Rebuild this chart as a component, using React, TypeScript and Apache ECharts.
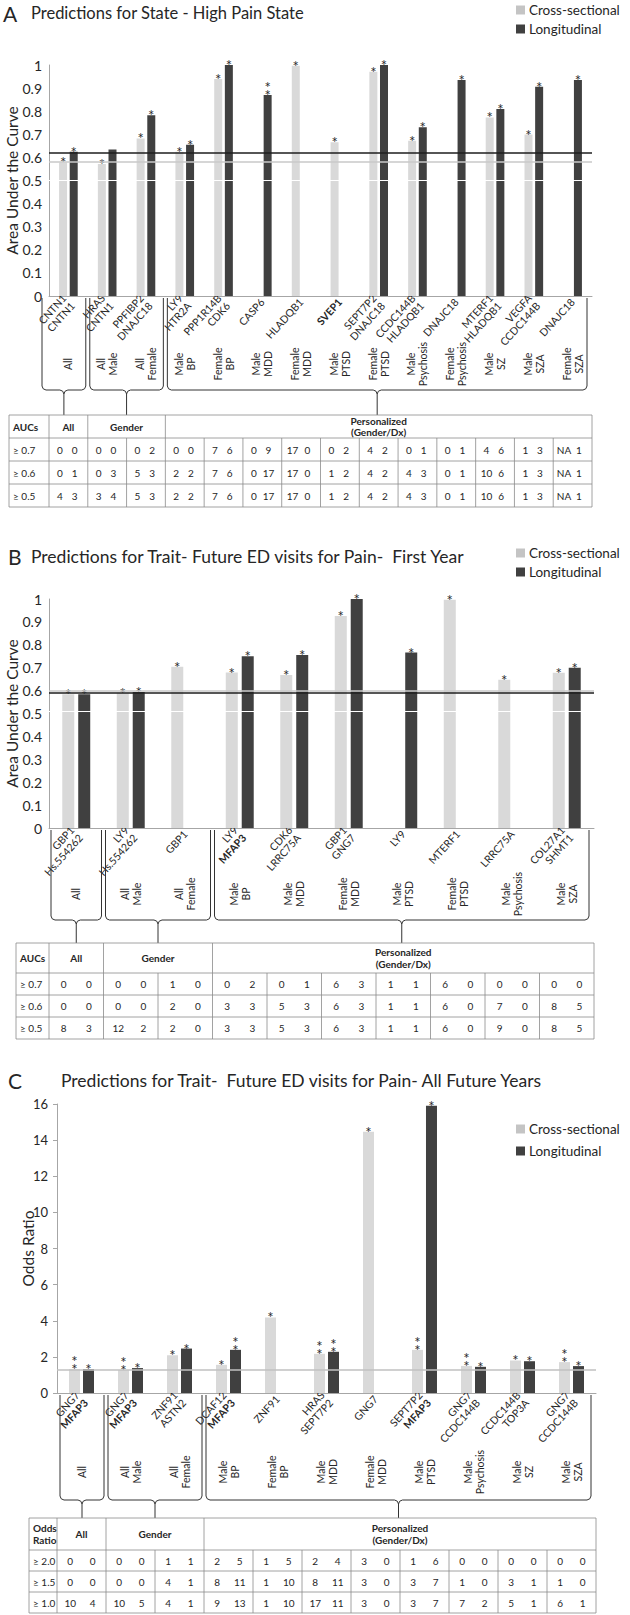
import React, { useEffect, useRef } from "react";
import * as echarts from "echarts";

const FONT = "Lato, 'Open Sans', 'DejaVu Sans', sans-serif";
const TEXT = "#262626";
const CS_COLOR = "#d9d9d9";
const L_COLOR = "#404040";
const CS_LEGEND = "#c4c4c4";

const seriesNames = ["Cross-sectional", "Longitudinal"];
const boldGenes = ["MFAP3", "SVEP1"];

// ---------------- Panel A ----------------
const aLetter = "A";
const aTitle = "Predictions for State - High Pain State";
const aGenes = ["CNTN1\nCNTN1", "HRAS\nCNTN1", "PPFIBP2\nDNAJC18", "LY9\nHTR2A", "PPP1R14B\nCDK6", "CASP6", "HLADQB1", "SVEP1", "SEPT7P2\nDNAJC18", "CCDC144B\nHLADQB1", "DNAJC18", "MTERF1\nHLADQB1", "VEGFA\nCCDC144B", "DNAJC18"];
const aGroups = ["All", "All\nMale", "All\nFemale", "Male\nBP", "Female\nBP", "Male\nMDD", "Female\nMDD", "Male\nPTSD", "Female\nPTSD", "Male\nPsychosis", "Female\nPsychosis", "Male\nSZ", "Male\nSZA", "Female\nSZA"];
const aCross = [0.578, 0.571, 0.682, 0.625, 0.939, null, 0.997, 0.666, 0.971, 0.672, null, 0.773, 0.699, null];
const aLong = [0.624, 0.634, 0.782, 0.655, 1.0, 0.87, null, null, 1.0, 0.73, 0.935, 0.809, 0.906, 0.935];
const aCrossStars = [1, 1, 1, 1, 1, 0, 1, 1, 1, 1, 0, 1, 1, 0];
const aLongStars = [1, 0, 1, 1, 1, 2, 0, 0, 1, 1, 1, 1, 1, 1];
const aRefLines = [0.5, 0.578, 0.622];
const aRefColors = ["#ffffff", "#c8c8c8", "#1e1e1e"];
const aYMax = 1;
const aYStep = 0.1;
const aYName = "Area Under the Curve";
const aHeaders = ["AUCs", "All", "Gender", "Personalized\n(Gender/Dx)"];
const aRowLabels = ["≥ 0.7", "≥ 0.6", "≥ 0.5"];
const aTable = [
  ["0 0", "0 0", "0 2", "0 0", "7 6", "0 9", "17 0", "0 2", "4 2", "0 1", "0 1", "4 6", "1 3", "NA 1"],
  ["0 1", "0 3", "5 3", "2 2", "7 6", "0 17", "17 0", "1 2", "4 2", "4 3", "0 1", "10 6", "1 3", "NA 1"],
  ["4 3", "3 4", "5 3", "2 2", "7 6", "0 17", "17 0", "1 2", "4 2", "4 3", "0 1", "10 6", "1 3", "NA 1"],
];

// ---------------- Panel B ----------------
const bLetter = "B";
const bTitle = "Predictions for Trait- Future ED visits for Pain-  First Year";
const bGenes = ["GBP1\nHs.554262", "LY9\nHs.554262", "GBP1", "LY9\nMFAP3", "CDK6\nLRRC75A", "GBP1\nGNG7", "LY9", "MTERF1", "LRRC75A", "COL27A1\nSHMT1"];
const bGroups = ["All", "All\nMale", "All\nFemale", "Male\nBP", "Male\nMDD", "Female\nMDD", "Male\nPTSD", "Female\nPTSD", "Male\nPsychosis", "Male\nSZA"];
const bCross = [0.584, 0.591, 0.704, 0.679, 0.668, 0.926, null, 0.997, 0.647, 0.678];
const bLong = [0.584, 0.594, null, 0.75, 0.756, 1.0, 0.766, null, null, 0.70];
const bCrossStars = [1, 1, 1, 1, 1, 1, 0, 1, 1, 1];
const bLongStars = [1, 1, 0, 1, 1, 1, 1, 0, 0, 1];
const bRefLines = [0.505, 0.596, 0.589];
const bRefColors = ["#ffffff", "#c8c8c8", "#1e1e1e"];
const bYMax = 1;
const bYStep = 0.1;
const bYName = "Area Under the Curve";
const bHeaders = ["AUCs", "All", "Gender", "Personalized\n(Gender/Dx)"];
const bRowLabels = ["≥ 0.7", "≥ 0.6", "≥ 0.5"];
const bTable = [
  ["0 0", "0 0", "1 0", "0 2", "0 1", "6 3", "1 1", "6 0", "0 0", "0 0"],
  ["0 0", "0 0", "2 0", "3 3", "5 3", "6 3", "1 1", "6 0", "7 0", "8 5"],
  ["8 3", "12 2", "2 0", "3 3", "5 3", "6 3", "1 1", "6 0", "9 0", "8 5"],
];

// ---------------- Panel C ----------------
const cLetter = "C";
const cTitle = "Predictions for Trait-  Future ED visits for Pain- All Future Years";
const cGenes = ["GNG7\nMFAP3", "GNG7\nMFAP3", "ZNF91\nASTN2", "DCAF12\nMFAP3", "ZNF91", "HRAS\nSEPT7P2", "GNG7", "SEPT7P2\nMFAP3", "GNG7\nCCDC144B", "CCDC144B\nTOP3A", "GNG7\nCCDC144B"];
const cGroups = ["All", "All\nMale", "All\nFemale", "Male\nBP", "Female\nBP", "Male\nMDD", "Female\nMDD", "Male\nPTSD", "Male\nPsychosis", "Male\nSZ", "Male\nSZA"];
const cCross = [1.32, 1.27, 2.09, 1.56, 4.18, 2.17, 14.46, 2.39, 1.5, 1.8, 1.71];
const cLong = [1.32, 1.38, 2.46, 2.39, null, 2.28, null, 15.9, 1.45, 1.76, 1.49];
const cCrossStars = [2, 2, 1, 1, 1, 2, 1, 2, 2, 1, 2];
const cLongStars = [1, 1, 1, 2, 0, 2, 0, 1, 1, 1, 1];
const cRefLines = [1.28];
const cRefColors = ["#c0c0c0"];
const cYMax = 16;
const cYStep = 2;
const cYName = "Odds Ratio";
const cHeaders = ["Odds\nRatio", "All", "Gender", "Personalized\n(Gender/Dx)"];
const cRowLabels = ["≥ 2.0", "≥ 1.5", "≥ 1.0"];
const cTable = [
  ["0 0", "0 0", "1 1", "2 5", "1 5", "2 4", "3 0", "1 6", "0 0", "0 0", "0 0"],
  ["0 0", "0 0", "4 1", "8 11", "1 10", "8 11", "3 0", "3 7", "1 0", "3 1", "1 0"],
  ["10 4", "10 5", "4 1", "9 13", "1 10", "17 11", "3 0", "3 7", "7 2", "5 1", "6 1"],
];

const panels = [
  { letter: aLetter, title: aTitle, genes: aGenes, groups: aGroups, cross: aCross, long: aLong, crossStars: aCrossStars, longStars: aLongStars, refLines: aRefLines, refColors: aRefColors, yMax: aYMax, yStep: aYStep, yName: aYName, headers: aHeaders, rowLabels: aRowLabels, table: aTable },
  { letter: bLetter, title: bTitle, genes: bGenes, groups: bGroups, cross: bCross, long: bLong, crossStars: bCrossStars, longStars: bLongStars, refLines: bRefLines, refColors: bRefColors, yMax: bYMax, yStep: bYStep, yName: bYName, headers: bHeaders, rowLabels: bRowLabels, table: bTable },
  { letter: cLetter, title: cTitle, genes: cGenes, groups: cGroups, cross: cCross, long: cLong, crossStars: cCrossStars, longStars: cLongStars, refLines: cRefLines, refColors: cRefColors, yMax: cYMax, yStep: cYStep, yName: cYName, headers: cHeaders, rowLabels: cRowLabels, table: cTable },
];

// layout (pixels)
const layouts = [
  { letterX: 3, titleX: 31, titleY: 13, titleSize: 16.5, left: 49, right: 592, top: 65, bottom: 296, barW: 8, barGap: "33%", yLabelSize: 14, yNameX: 12, geneRotate: 48, groupOffset: 68, legX: 516, legY: [10, 29], bracketY: 390, tableTop: 415, headerH: 23, rowH: 23, tableLeft: 9, numPos: [0.28, 0.66], firstBracketX: 42, yTick: false },
  { letterX: 8, titleX: 31, titleY: 556, titleSize: 17.5, left: 49, right: 594, top: 599, bottom: 828, barW: 12, barGap: "33%", yLabelSize: 14, yNameX: 12, geneRotate: 48, groupOffset: 66, legX: 516, legY: [553, 572], bracketY: 920, tableTop: 943, headerH: 30, rowH: 22, tableLeft: 16, numPos: [0.27, 0.73], firstBracketX: 51, yTick: false },
  { letterX: 8, titleX: 61, titleY: 1080, titleSize: 17.5, left: 57, right: 596, top: 1104, bottom: 1393, barW: 11, barGap: "27%", yLabelSize: 13, yNameX: 28, geneRotate: 48, groupOffset: 79, legX: 516, legY: [1129, 1151], bracketY: 1500, tableTop: 1518, headerH: 32, rowH: 21, tableLeft: 29, numPos: [0.27, 0.73], firstBracketX: 60, yTick: true },
];

const txt = (x: number, y: number, text: string, o: any = {}) => ({
  type: "text",
  x,
  y,
  silent: true,
  rotation: o.rotation || 0,
  z: 20,
  style: {
    text,
    fill: o.fill || TEXT,
    fontSize: o.fontSize || 10,
    fontFamily: FONT,
    fontWeight: o.fontWeight || "normal",
    lineHeight: o.lineHeight,
    align: o.align || "left",
    textAlign: o.align || "left",
    verticalAlign: o.verticalAlign || "middle",
    textVerticalAlign: o.verticalAlign || "middle",
  },
});

const ln = (x1: number, y1: number, x2: number, y2: number, color = "#8a8a8a", w = 0.8) => ({
  type: "line",
  silent: true,
  z: 20,
  shape: { x1, y1, x2, y2 },
  style: { stroke: color, lineWidth: w },
});

function buildGraphics() {
  const els: any[] = [];
  panels.forEach((p, i) => {
    const L = layouts[i];
    const n = p.genes.length;
    const band = (L.right - L.left) / n;
    const bx = (k: number) => L.left + k * band;
    // titles
    els.push(txt(L.letterX, L.titleY, p.letter, { fontSize: 21 }));
    els.push(txt(L.titleX, L.titleY, p.title, { fontSize: L.titleSize }));
    // legend
    const legColors = [CS_LEGEND, L_COLOR];
    seriesNames.forEach((s, j) => {
      els.push({ type: "rect", silent: true, z: 20, shape: { x: L.legX, y: L.legY[j] - 4.5, width: 9, height: 9 }, style: { fill: legColors[j] } });
      els.push(txt(L.legX + 13, L.legY[j], s, { fontSize: 13.5 }));
    });
    // y axis name
    els.push(txt(L.yNameX, (L.top + L.bottom) / 2, p.yName, { fontSize: 15.5, rotation: Math.PI / 2, align: "center" }));
    // brackets
    const groupsIdx = [[0, 1], [1, 3], [3, n]];
    groupsIdx.forEach(([s, e], gi) => {
      const xs = gi === 0 ? L.firstBracketX : bx(s) + 2;
      const xe = gi === 2 ? L.right - 5 : bx(e) - 2;
      const xc = (xs + xe) / 2;
      const yt = L.bottom + 2;
      const yb = L.bracketY;
      const r = 4;
      const st = { stroke: "#333", lineWidth: 1, fill: "none" };
      els.push({ type: "polyline", silent: true, z: 20, shape: { points: [[xs, yt], [xs, yb - r], [xs + 1.2, yb - 1.2], [xs + r, yb], [xc - r, yb], [xc - 1.2, yb + 1.2], [xc, yb + r], [xc, L.tableTop]] }, style: st });
      els.push({ type: "polyline", silent: true, z: 20, shape: { points: [[xe, yt], [xe, yb - r], [xe - 1.2, yb - 1.2], [xe - r, yb], [xc + r, yb], [xc + 1.2, yb + 1.2], [xc, yb + r]] }, style: st });
    });
    // table
    const top = L.tableTop;
    const hb = top + L.headerH;
    const bottom = hb + 3 * L.rowH;
    els.push({ type: "rect", silent: true, z: 20, shape: { x: L.tableLeft, y: top, width: L.right - L.tableLeft, height: bottom - top }, style: { fill: "none", stroke: "#8a8a8a", lineWidth: 0.8 } });
    for (let r = 0; r < 3; r++) {
      const y = hb + r * L.rowH;
      els.push(ln(L.tableLeft, y, L.right, y));
    }
    [L.left, bx(1), bx(3)].forEach((x) => els.push(ln(x, top, x, hb)));
    for (let k = 0; k < n; k++) els.push(ln(bx(k), hb, bx(k), bottom));
    // header texts
    els.push(txt(L.tableLeft + 4, (top + hb) / 2, p.headers[0], { fontSize: 10, fontWeight: "bold", lineHeight: 12 }));
    els.push(txt((L.left + bx(1)) / 2, (top + hb) / 2, p.headers[1], { fontSize: 10, fontWeight: "bold", align: "center" }));
    els.push(txt((bx(1) + bx(3)) / 2, (top + hb) / 2, p.headers[2], { fontSize: 10, fontWeight: "bold", align: "center" }));
    els.push(txt((bx(3) + L.right) / 2, (top + hb) / 2, p.headers[3], { fontSize: 10, fontWeight: "bold", align: "center", lineHeight: 11.5 }));
    // rows
    p.table.forEach((row, r) => {
      const yc = hb + (r + 0.5) * L.rowH;
      els.push(txt(L.tableLeft + 4, yc, p.rowLabels[r], { fontSize: 10 }));
      row.forEach((cell, k) => {
        const [v1, v2] = cell.split(" ");
        const x0 = bx(k);
        els.push(txt(x0 + band * L.numPos[0], yc, v1, { fontSize: 10, align: "center" }));
        els.push(txt(x0 + band * L.numPos[1], yc, v2, { fontSize: 10, align: "center" }));
      });
    });
  });
  return els;
}

const geneFormatter = (v: string) =>
  v.split("\n").map((s) => (boldGenes.includes(s) ? `{b|${s}}` : `{n|${s}}`)).join("\n");

function buildOption() {
  const grid: any[] = [];
  const xAxis: any[] = [];
  const yAxis: any[] = [];
  const series: any[] = [];
  panels.forEach((p, i) => {
    const L = layouts[i];
    grid.push({ left: L.left, top: L.top, width: L.right - L.left, height: L.bottom - L.top, containLabel: false });
    xAxis.push({
      type: "category",
      gridIndex: i,
      data: p.genes,
      position: "bottom",
      axisLine: { show: true, lineStyle: { color: "#a6a6a6", width: 1 } },
      axisTick: { show: false },
      splitLine: { show: false },
      axisLabel: {
        interval: 0,
        rotate: L.geneRotate,
        margin: 4,
        formatter: geneFormatter,
        rich: {
          n: { fontSize: 10.5, fontFamily: FONT, color: TEXT, lineHeight: 11.5 },
          b: { fontSize: 10.5, fontFamily: FONT, color: TEXT, fontWeight: "bold", lineHeight: 11.5 },
        },
      },
    });
    xAxis.push({
      type: "category",
      gridIndex: i,
      data: p.groups,
      position: "bottom",
      offset: L.groupOffset,
      axisLine: { show: false },
      axisTick: { show: false },
      splitLine: { show: false },
      axisLabel: {
        interval: 0,
        rotate: 90,
        margin: 0,
        align: "center",
        verticalAlign: "middle",
        fontSize: 10.5,
        lineHeight: 12,
        fontFamily: FONT,
        color: TEXT,
      },
    });
    yAxis.push({
      type: "value",
      gridIndex: i,
      min: 0,
      max: p.yMax,
      interval: p.yStep,
      axisLine: { show: true, lineStyle: { color: "#a6a6a6", width: 1 } },
      axisTick: { show: L.yTick, length: 4, lineStyle: { color: "#a6a6a6" } },
      splitLine: { show: false },
      axisLabel: { fontSize: L.yLabelSize, color: TEXT, fontFamily: FONT, margin: L.yTick ? 9 : 7 },
    });
    const mkLabel = (stars: number[]) => ({
      show: true,
      position: "top",
      distance: -4,
      fontSize: 15,
      lineHeight: 8,
      color: "#2a2a2a",
      fontFamily: FONT,
      formatter: (prm: any) => (stars[prm.dataIndex] === 2 ? "*\n*" : stars[prm.dataIndex] === 1 ? "*" : ""),
    });
    series.push({
      type: "bar",
      name: seriesNames[0],
      xAxisIndex: 2 * i,
      yAxisIndex: i,
      data: p.cross,
      barWidth: L.barW,
      barGap: L.barGap,
      itemStyle: { color: CS_COLOR },
      label: mkLabel(p.crossStars),
    });
    series.push({
      type: "bar",
      name: seriesNames[1],
      xAxisIndex: 2 * i,
      yAxisIndex: i,
      data: p.long,
      barWidth: L.barW,
      barGap: L.barGap,
      z: 3,
      itemStyle: { color: L_COLOR },
      label: mkLabel(p.longStars),
      markLine: {
        silent: true,
        symbol: "none",
        z: 10,
        label: { show: false },
        data: p.refLines.map((v, k) => ({
          yAxis: v,
          lineStyle: { color: p.refColors[k], width: p.refColors[k] === "#ffffff" ? 1.2 : 1.6, type: "solid" },
        })),
      },
    });
  });
  return {
    animation: false,
    backgroundColor: "#ffffff",
    textStyle: { fontFamily: FONT },
    grid,
    xAxis,
    yAxis,
    series,
    graphic: { elements: buildGraphics() },
  };
}

export default function App() {
  const ref = useRef<HTMLDivElement>(null);
  useEffect(() => {
    document.body.style.margin = "0";
    if (!ref.current) return;
    const chart = echarts.init(ref.current, undefined, { renderer: "svg" });
    chart.setOption(buildOption() as any);
    return () => chart.dispose();
  }, []);
  return <div ref={ref} style={{ position: "absolute", left: 0, top: 0, width: 630, height: 1615, background: "#fff" }} />;
}
